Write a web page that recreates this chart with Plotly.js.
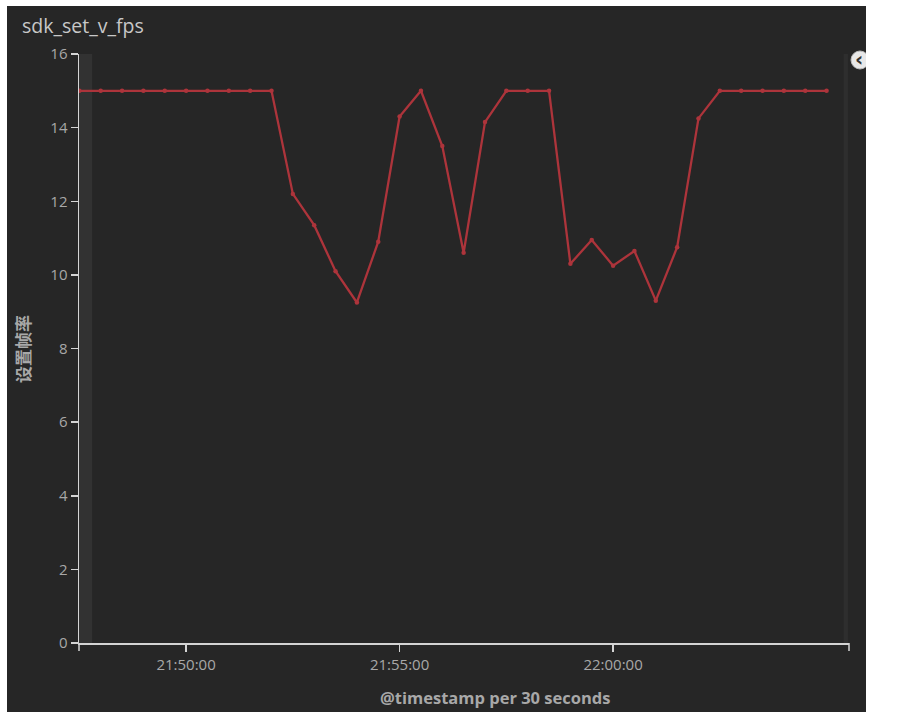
<!DOCTYPE html>
<html>
<head>
<meta charset="utf-8">
<script src="https://cdn.plot.ly/plotly-3.0.1.min.js"></script>
<style>
html,body{margin:0;padding:0;background:#ffffff;}
#chart{width:908px;height:728px;}
</style>
</head>
<body>
<div id="chart"></div>
<script>
// ---- data ----
var chartTitle = "sdk_set_v_fps";
var yAxisTitle = "设置帧率";
var xAxisTitle = "@timestamp per 30 seconds";

var timestamps = [
  "2020-01-01 21:47:30","2020-01-01 21:48:00","2020-01-01 21:48:30","2020-01-01 21:49:00",
  "2020-01-01 21:49:30","2020-01-01 21:50:00","2020-01-01 21:50:30","2020-01-01 21:51:00",
  "2020-01-01 21:51:30","2020-01-01 21:52:00","2020-01-01 21:52:30","2020-01-01 21:53:00",
  "2020-01-01 21:53:30","2020-01-01 21:54:00","2020-01-01 21:54:30","2020-01-01 21:55:00",
  "2020-01-01 21:55:30","2020-01-01 21:56:00","2020-01-01 21:56:30","2020-01-01 21:57:00",
  "2020-01-01 21:57:30","2020-01-01 21:58:00","2020-01-01 21:58:30","2020-01-01 21:59:00",
  "2020-01-01 21:59:30","2020-01-01 22:00:00","2020-01-01 22:00:30","2020-01-01 22:01:00",
  "2020-01-01 22:01:30","2020-01-01 22:02:00","2020-01-01 22:02:30","2020-01-01 22:03:00",
  "2020-01-01 22:03:30","2020-01-01 22:04:00","2020-01-01 22:04:30","2020-01-01 22:05:00"
];
var fpsValues = [
  15, 15, 15, 15, 15, 15, 15, 15, 15, 15,
  12.2, 11.35, 10.1, 9.25, 10.9, 14.3, 15, 13.5, 10.6, 14.15,
  15, 15, 15,
  10.3, 10.95, 10.25, 10.65, 9.3, 10.75, 14.25,
  15, 15, 15, 15, 15, 15
];
var xTickVals = ["2020-01-01 21:50:00", "2020-01-01 21:55:00", "2020-01-01 22:00:00"];
var xTickText = ["21:50:00", "21:55:00", "22:00:00"];
var yTickVals = [0, 2, 4, 6, 8, 10, 12, 14, 16];
var xRange = ["2020-01-01 21:47:29.5", "2020-01-01 22:05:31.5"];
var yRange = [0, 16];
var partialStart = ["2020-01-01 21:47:29.5", "2020-01-01 21:47:48"];
var partialEnd = ["2020-01-01 22:05:24", "2020-01-01 22:05:30"];

// ---- chart ----
var axisCol = "#d4d4d4";
var tickCol = "#a8a8a8";
var bg = "#262626";

var trace = {
  x: timestamps,
  y: fpsValues,
  type: "scatter",
  mode: "lines+markers",
  line: {color: "#ad343b", width: 2.3},
  marker: {color: "#ad343b", size: 4.5},
  hoverinfo: "x+y",
  showlegend: false
};

var L = 79, R = 849, T = 54, B = 643;
function px(x){ return (x - L) / (R - L); }
function py(y){ return (B - y) / (B - T); }

var layout = {
  width: 908,
  height: 728,
  margin: {l: L, r: 908 - R, t: T, b: 728 - B, pad: 0},
  paper_bgcolor: "#ffffff",
  plot_bgcolor: "rgba(0,0,0,0)",
  font: {family: "Open Sans, sans-serif", color: tickCol, size: 15},
  showlegend: false,
  xaxis: {
    type: "date",
    range: xRange,
    tickmode: "array",
    tickvals: xTickVals,
    ticktext: xTickText,
    showgrid: false,
    zeroline: false,
    showline: true,
    linecolor: axisCol,
    linewidth: 1.5,
    ticks: "outside",
    ticklen: 7,
    tickwidth: 1.5,
    tickcolor: axisCol,
    tickfont: {size: 15, color: tickCol},
    fixedrange: true
  },
  yaxis: {
    range: yRange,
    tickmode: "array",
    tickvals: yTickVals,
    showgrid: false,
    zeroline: false,
    showline: true,
    linecolor: axisCol,
    linewidth: 1.5,
    ticks: "outside",
    ticklen: 7,
    tickwidth: 1.5,
    tickcolor: axisCol,
    tickfont: {size: 15, color: tickCol},
    fixedrange: true
  },
  shapes: [
    {type: "rect", xref: "paper", yref: "paper", layer: "below",
     x0: px(7), x1: px(866), y0: py(712), y1: py(6),
     fillcolor: bg, line: {width: 0}},
    {type: "rect", xref: "x", yref: "y", layer: "below",
     x0: partialStart[0], x1: partialStart[1], y0: yRange[0], y1: yRange[1],
     fillcolor: "rgba(255,255,255,0.06)", line: {width: 0}},
    {type: "rect", xref: "x", yref: "y", layer: "below",
     x0: partialEnd[0], x1: partialEnd[1], y0: yRange[0], y1: yRange[1],
     fillcolor: "rgba(255,255,255,0.04)", line: {width: 0}},
    {type: "line", xref: "paper", yref: "paper",
     x0: 0, x1: 0, y0: 0, y1: py(651), line: {color: axisCol, width: 1.5}},
    {type: "line", xref: "paper", yref: "paper",
     x0: 1, x1: 1, y0: 0, y1: py(651), line: {color: axisCol, width: 1.5}},
    {type: "circle", xref: "paper", yref: "paper",
     x0: px(851), x1: px(869), y0: py(69), y1: py(51),
     fillcolor: "#e8e8e8", line: {color: "#bbbbbb", width: 1}}
  ],
  annotations: [
    {text: chartTitle, xref: "paper", yref: "paper", x: px(20), y: py(25),
     xanchor: "left", yanchor: "middle", showarrow: false,
     font: {size: 19.5, color: "#c8c8c8", family: "Open Sans, sans-serif"}},
    {text: "<b>" + yAxisTitle + "</b>", xref: "paper", yref: "paper", x: px(22), y: py(349),
     xanchor: "center", yanchor: "middle", textangle: -90, showarrow: false,
     font: {size: 17, color: tickCol, family: "Noto Sans CJK SC, sans-serif"}},
    {text: "<b>" + xAxisTitle + "</b>", xref: "paper", yref: "paper", x: px(495), y: py(697),
     xanchor: "center", yanchor: "middle", showarrow: false,
     font: {size: 16.5, color: tickCol, family: "Open Sans, sans-serif"}},
    {text: "<b>‹</b>", xref: "paper", yref: "paper", x: px(859), y: py(59),
     xanchor: "center", yanchor: "middle", showarrow: false,
     font: {size: 20, color: "#333333", family: "DejaVu Sans, sans-serif"}}
  ]
};

// white cover to clip legend icon at panel edge
layout.shapes.push({type: "rect", xref: "paper", yref: "paper", layer: "above",
  x0: px(866), x1: px(908), y0: py(728), y1: py(0),
  fillcolor: "#ffffff", line: {width: 0}});

Plotly.newPlot("chart", [trace], layout, {displayModeBar: false, staticPlot: true});
</script>
</body>
</html>
